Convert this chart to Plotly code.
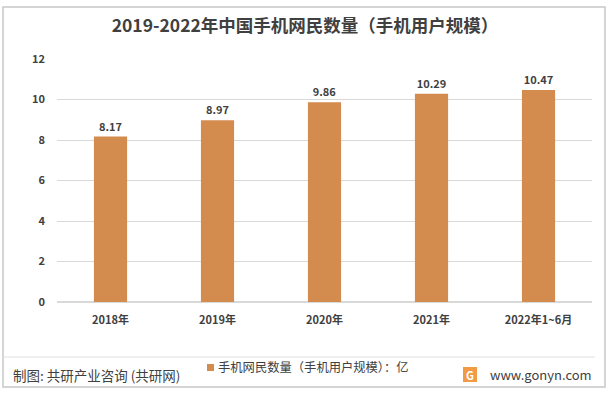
import plotly.graph_objects as go

categories = ["2018年", "2019年", "2020年", "2021年", "2022年1~6月"]
values = [8.17, 8.97, 9.86, 10.29, 10.47]
value_labels = ["8.17", "8.97", "9.86", "10.29", "10.47"]
y_ticks = [0, 2, 4, 6, 8, 10, 12]

FONT = "Noto Sans CJK SC"
BAR = "#D48B4E"

fig = go.Figure()
fig.add_trace(go.Bar(
    x=categories, y=values, width=0.31,
    marker=dict(color=BAR, line=dict(width=0)),
    text=["<b>%s</b>" % v for v in value_labels], textposition="outside",
    textfont=dict(family=FONT, size=11, color="#404040"),
    cliponaxis=False,
    name="手机网民数量（手机用户规模）：亿",
    showlegend=False,
))

fig.update_layout(
    width=610, height=393,
    margin=dict(l=57, r=18, t=59, b=91),
    paper_bgcolor="white", plot_bgcolor="white",
    font=dict(family=FONT, color="#595959"),
    title=dict(text="<b>2019-2022年中国手机网民数量（手机用户规模）</b>",
               x=0.5, xanchor="center", y=1 - 26/393, yanchor="middle",
               font=dict(family=FONT, size=17.5, color="#404040")),
    xaxis=dict(showline=False, ticks="", tickfont=dict(family=FONT, size=11, color="#404040"),
               showgrid=False, tickvals=categories, ticklabelstandoff=10,
               ticktext=["<b>%s</b>" % c for c in categories]),
    yaxis=dict(range=[0, 12], tickvals=y_ticks, ticktext=["<b>%d</b>" % t for t in y_ticks],
               showgrid=True, gridcolor="#D9D9D9",
               gridwidth=1, zeroline=True, zerolinecolor="#D9D9D9", showline=False,
               ticks="", tickfont=dict(family=FONT, size=11, color="#404040"),
               ticklabelstandoff=11),
    showlegend=False,
)

# outer border
fig.add_shape(type="rect", xref="paper", yref="paper", x0=-54/535, x1=(605-57)/535,
              y0=-(387-302)/243, y1=(59-7)/243 + 1, line=dict(color="#C8C8C8", width=1.5))
# footer separator
fig.add_shape(type="line", xref="paper", yref="paper", x0=-54/535, x1=(595-57)/535,
              y0=-(357-302)/243, y1=-(357-302)/243, line=dict(color="#E0E0E0", width=1))

# legend
fig.add_shape(type="rect", xref="paper", yref="paper",
              x0=(207-57)/535, x1=(214-57)/535,
              y0=-(371-302)/243, y1=-(364-302)/243,
              fillcolor=BAR, line=dict(width=0))
fig.add_annotation(xref="paper", yref="paper", x=(216-57)/535, y=-(367-302)/243,
                   text="手机网民数量（手机用户规模）：亿", showarrow=False,
                   xanchor="left", yanchor="middle",
                   font=dict(family=FONT, size=12.3, color="#404040"))
fig.add_annotation(xref="paper", yref="paper", x=(11-57)/535, y=-(375-302)/243,
                   text="制图: 共研产业咨询 (共研网)", showarrow=False,
                   xanchor="left", yanchor="middle",
                   font=dict(family=FONT, size=13.5, color="#404040"))
fig.add_annotation(xref="paper", yref="paper", x=(594-57)/535, y=-(374-302)/243,
                   text="www.gonyn.com", showarrow=False,
                   xanchor="right", yanchor="middle",
                   font=dict(family=FONT, size=13, color="#404040"))
# logo
fig.add_shape(type="rect", xref="paper", yref="paper",
              x0=(463-57)/535, x1=(477-57)/535,
              y0=-(382-302)/243, y1=-(367-302)/243,
              fillcolor="#F39A45", line=dict(width=0))
fig.add_annotation(xref="paper", yref="paper", x=(470-57)/535, y=-(374.5-302)/243,
                   text="<b>G</b>", showarrow=False, xanchor="center", yanchor="middle",
                   font=dict(family=FONT, size=11, color="white"))

fig.write_html("out.html", config={"displayModeBar": False},
               post_script="document.body.style.margin='0';")
